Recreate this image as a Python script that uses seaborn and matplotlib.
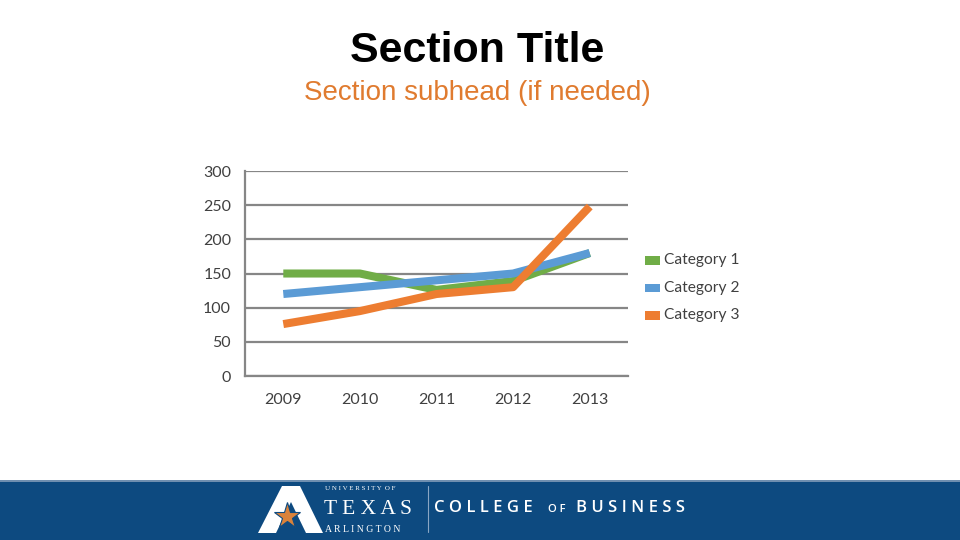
import matplotlib
matplotlib.use("Agg")
import matplotlib.pyplot as plt
from matplotlib.patches import Rectangle, Polygon
import seaborn as sns
import pandas as pd
import numpy as np

years = ["2009", "2010", "2011", "2012", "2013"]
category_1 = [150, 150, 126, 139, 180]
category_2 = [120, 130, 140, 150, 180]
category_3 = [76, 95, 120, 130, 248]
series_names = ["Category 1", "Category 2", "Category 3"]
colors = ["#70ad47", "#5b9bd5", "#ed7d31"]

rows = []
for name, vals in zip(series_names, [category_1, category_2, category_3]):
    for i, v in enumerate(vals):
        rows.append({"pos": i, "value": v, "series": name})
df = pd.DataFrame(rows)

sns.set_style("white")
plt.rcParams["font.family"] = ["Lato", "DejaVu Sans"]

fig = plt.figure(figsize=(9.6, 5.4), dpi=100)
ax = fig.add_axes([0.2552, 0.3037, 0.399, 0.3796])

sns.lineplot(data=df, x="pos", y="value", hue="series", palette=colors,
             linewidth=5.8, ax=ax, legend=False, solid_capstyle="butt")

ax.set_xlim(-0.5, 4.5)
ax.set_ylim(0, 300)
ax.set_yticks(range(0, 301, 50))
ax.set_xticks(range(len(years)))
ax.set_xticklabels(years)
ax.set_xticks(np.arange(-0.5, 4.6, 1), minor=True)
ax.tick_params(axis="x", which="major", length=0, pad=12, labelsize=11.5, labelcolor="#404040")
ax.tick_params(axis="x", which="minor", length=5, width=1.2, color="#868686", direction="out")
ax.tick_params(axis="y", length=0, pad=10, labelsize=11.5, labelcolor="#404040")
ax.set_xlabel("")
ax.set_ylabel("")
ax.yaxis.grid(True, color="#868686", linewidth=1.6)
ax.set_axisbelow(True)
for s in ["top", "right"]:
    ax.spines[s].set_visible(False)
for s in ["left", "bottom"]:
    ax.spines[s].set_color("#868686")
    ax.spines[s].set_linewidth(1.6)

# legend
for i, (name, c) in enumerate(zip(series_names, colors)):
    y = 0.518 - i * 0.051
    fig.add_artist(Rectangle((0.672, y - 0.008), 0.016, 0.016, transform=fig.transFigure,
                             color=c, lw=0))
    fig.text(0.692, y, name, fontsize=11.2, color="#404040", va="center", ha="left")

# titles
fig.text(0.497, 0.906, "Section Title", fontsize=31, fontweight="bold", color="black",
         ha="center", va="center", family=["Liberation Sans", "DejaVu Sans"])
fig.text(0.497, 0.827, "Section subhead (if needed)", fontsize=20, color="#e07b2f",
         ha="center", va="center", family=["Liberation Sans", "DejaVu Sans"])

# footer band
fig.add_artist(Rectangle((0, 0), 1, 0.109, transform=fig.transFigure,
                         color="#0d4a80", lw=0))
fig.add_artist(Rectangle((0, 0.107), 1, 0.004, transform=fig.transFigure,
                         color="#6f8fb0", lw=0))
# logo "A"
a_pts = [(258, 533), (282, 486), (300, 486), (323, 533), (306, 533), (291, 502), (276, 533)]
fig.add_artist(Polygon([(x / 960, 1 - y / 540) for x, y in a_pts], closed=True,
                       transform=fig.transFigure, color="white", lw=0))
fig.add_artist(plt.Line2D([287 / 960], [1 - 516 / 540], marker="*", markersize=20,
                          color="#d9823b", markeredgecolor="#0d4a80", markeredgewidth=0.8,
                          transform=fig.transFigure))
serif = ["Liberation Serif", "DejaVu Serif"]
fig.text(0.339, 1 - 488 / 540, "U N I V E R S I T Y  O F", fontsize=5, color="white",
         family=serif, va="center", ha="left")
fig.text(0.337, 1 - 509 / 540, "T E X A S", fontsize=15.5, color="white", family=serif,
         va="center", ha="left")
fig.text(0.339, 1 - 529 / 540, "A R L I N G T O N", fontsize=7, color="white", family=serif,
         va="center", ha="left")
fig.add_artist(plt.Line2D([428 / 960, 428 / 960], [1 - 486 / 540, 1 - 532 / 540],
                          color="#8aa6c4", lw=0.8, transform=fig.transFigure))
fig.text(0.452, 1 - 508 / 540, "C O L L E G E", fontsize=12, color="white", fontweight="semibold",
         va="center", ha="left", family=["Open Sans", "DejaVu Sans"])
fig.text(0.571, 1 - 509 / 540, "O F", fontsize=8, color="white", fontweight="semibold",
         va="center", ha="left", family=["Open Sans", "DejaVu Sans"])
fig.text(0.6, 1 - 508 / 540, "B U S I N E S S", fontsize=12, color="white", fontweight="semibold",
         va="center", ha="left", family=["Open Sans", "DejaVu Sans"])

fig.savefig("out.png", dpi=100)
